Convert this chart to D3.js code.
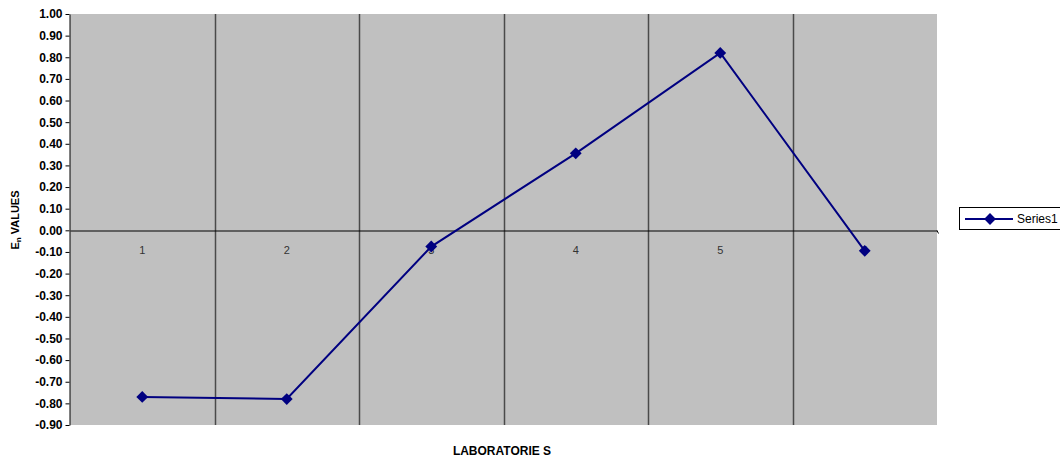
<!DOCTYPE html>
<html>
<head>
<meta charset="utf-8">
<script src="https://cdn.jsdelivr.net/npm/d3@7"></script>
<style>
  html, body { margin: 0; padding: 0; background: #fff; }
  svg { display: block; }
  .narrow { font-family: "Liberation Sans Narrow", "Arial Narrow", "Liberation Sans", Arial, sans-serif; }
</style>
</head>
<body>
<svg id="chart" width="1060" height="460"></svg>
<script>
// Laboratory En values
const laboratories = ["1", "2", "3", "4", "5", "6"];
const enValues = [-0.77, -0.78, -0.075, 0.356, 0.82, -0.095];
const yTicks = [1.0, 0.9, 0.8, 0.7, 0.6, 0.5, 0.4, 0.3, 0.2, 0.1, 0.0,
                -0.1, -0.2, -0.3, -0.4, -0.5, -0.6, -0.7, -0.8, -0.9];
const seriesName = "Series1";

const svg = d3.select("#chart");
const plot = { left: 70, right: 937, top: 14, bottom: 425 };

const x = d3.scaleBand().domain(laboratories).range([plot.left, plot.right]);
const y = d3.scaleLinear().domain([-0.9, 1.0]).range([plot.bottom, plot.top]);

// plot area
svg.append("rect")
  .attr("x", plot.left).attr("y", plot.top)
  .attr("width", plot.right - plot.left).attr("height", plot.bottom - plot.top)
  .attr("fill", "#c0c0c0");

// vertical separators between categories
svg.append("g").selectAll("line")
  .data(laboratories.slice(1))
  .join("line")
  .attr("x1", d => Math.round(x(d)) + 0.5).attr("x2", d => Math.round(x(d)) + 0.5)
  .attr("y1", plot.top).attr("y2", plot.bottom)
  .attr("stroke", "#4a4a4a").attr("stroke-width", 1.5);

// value axis
const yAxis = d3.axisLeft(y).tickValues(yTicks).tickSize(4).tickSizeOuter(0)
  .tickFormat(d3.format(".2f"));
const yg = svg.append("g")
  .attr("transform", `translate(${plot.left - 0.5},0)`)
  .call(yAxis);
yg.select(".domain").attr("stroke", "#000");
yg.selectAll(".tick line").attr("stroke", "#000");
yg.selectAll(".tick text")
  .attr("class", "narrow")
  .attr("x", -7)
  .attr("fill", "#000")
  .style("font-size", "12px")
  .style("font-weight", "bold")
  .text(d => d3.format(".2f")(d).replace("−", "-"));

// category axis at zero
const zeroY = Math.round(y(0)) + 0.5;
const xAxis = d3.axisBottom(x).tickSize(0).tickSizeOuter(0);
const xg = svg.append("g")
  .attr("transform", `translate(0,${zeroY})`)
  .call(xAxis);
xg.select(".domain").attr("stroke", "#000");
xg.selectAll(".tick text")
  .attr("y", 16)
  .attr("fill", "#333")
  .style("font-family", "'Liberation Sans', Arial, sans-serif")
  .style("font-size", "11px");
svg.append("line")
  .attr("x1", plot.right).attr("x2", plot.right + 1.5)
  .attr("y1", zeroY).attr("y2", zeroY + 3)
  .attr("stroke", "#000");

// series line and markers
const line = d3.line()
  .x((d, i) => x(laboratories[i]) + x.bandwidth() / 2)
  .y(d => y(d));
svg.append("path")
  .datum(enValues)
  .attr("d", line)
  .attr("fill", "none")
  .attr("stroke", "#000080")
  .attr("stroke-width", 2);

const diamond = d3.symbol().type(d3.symbolSquare).size(70);
svg.append("g").selectAll("path")
  .data(enValues)
  .join("path")
  .attr("d", diamond)
  .attr("transform", (d, i) =>
    `translate(${x(laboratories[i]) + x.bandwidth() / 2},${y(d)}) rotate(45)`)
  .attr("fill", "#000080");

// axis titles
svg.append("text")
  .attr("class", "narrow")
  .attr("x", 502).attr("y", 455)
  .attr("text-anchor", "middle")
  .style("font-size", "12px").style("font-weight", "bold")
  .text("LABORATORIE S");

const yTitle = svg.append("text")
  .attr("class", "narrow")
  .attr("transform", "translate(19,220) rotate(-90)")
  .attr("text-anchor", "middle")
  .style("font-size", "11px").style("font-weight", "bold");
yTitle.append("tspan").text("E");
yTitle.append("tspan").attr("dy", 2).style("font-size", "8px").text("n");
yTitle.append("tspan").attr("dy", -2).text(" VALUES");

// legend
const lg = svg.append("g").attr("transform", "translate(959,207)");
lg.append("rect")
  .attr("x", 0.5).attr("y", 0.5).attr("width", 110).attr("height", 22)
  .attr("fill", "#fff").attr("stroke", "#000");
lg.append("line")
  .attr("x1", 6).attr("x2", 54).attr("y1", 12).attr("y2", 12)
  .attr("stroke", "#000080").attr("stroke-width", 2);
lg.append("path")
  .attr("d", diamond)
  .attr("transform", "translate(31,12) rotate(45)")
  .attr("fill", "#000080");
lg.append("text")
  .attr("class", "narrow")
  .attr("x", 58).attr("y", 16)
  .style("font-size", "12px")
  .attr("fill", "#000")
  .text(seriesName);
</script>
</body>
</html>
